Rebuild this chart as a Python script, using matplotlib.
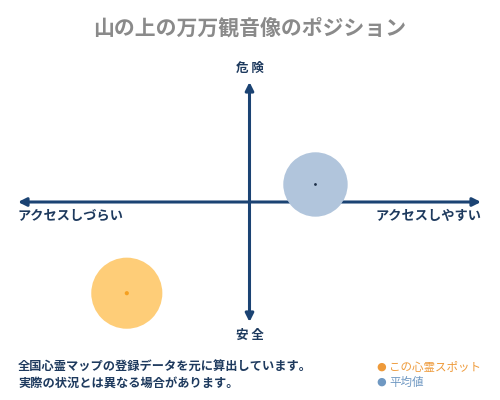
import matplotlib
matplotlib.use("Agg")
import matplotlib.pyplot as plt

plt.rcParams['font.family'] = ['Noto Sans CJK JP', 'DejaVu Sans']

title = "山の上の万万観音像のポジション"
series_names = ["この心霊スポット", "平均値"]
x_vals = [-0.53, 0.285]   # access (left: hard, right: easy)
y_vals = [-0.76, 0.146]   # danger (top: dangerous, bottom: safe)
fill_colors = ["#FECD78", "#B1C5DC"]
dot_colors = ["#F5A020", "#1C2F48"]
legend_colors = ["#EE9A3A", "#6F98C2"]
sizes = [2620, 2150]
dot_sizes = [9, 4]
label_top, label_bottom = "危 険", "安 全"
label_left, label_right = "アクセスしづらい", "アクセスしやすい"
notes = ["全国心霊マップの登録データを元に算出しています。", "実際の状況とは異なる場合があります。"]

navy = "#1B4373"
text_navy = "#1E3A5E"

fig = plt.figure(figsize=(5, 4), dpi=100)
ax = fig.add_axes([18/500, (400-322)/400, 463/500, 240/400])
ax.set_xlim(-1, 1)
ax.set_ylim(-1, 1)
ax.axis('off')

arrow_kw = dict(arrowstyle='<|-|>,head_length=0.6,head_width=0.3', color=navy, lw=2.2,
                shrinkA=0, shrinkB=0, mutation_scale=8)
ax.annotate('', xy=(1, 0), xytext=(-1, 0), arrowprops=arrow_kw, zorder=1)
ax.annotate('', xy=(0, 1), xytext=(0, -1), arrowprops=arrow_kw, zorder=1)

for x, y, fc, dc, s, ds in zip(x_vals, y_vals, fill_colors, dot_colors, sizes, dot_sizes):
    ax.scatter([x], [y], s=s, color=fc, edgecolors='none', zorder=2, clip_on=False)
    ax.scatter([x], [y], s=ds, color=dc, edgecolors='none', zorder=3, clip_on=False)

fig.text(0.5, 1 - 28/400, title, ha='center', va='center', fontsize=15,
         color='#8A8A8A', fontweight='bold')
fig.text(0.5, 1 - 68/400, label_top, ha='center', va='center', fontsize=9,
         color=text_navy, fontweight='bold')
fig.text(0.5, 1 - 335/400, label_bottom, ha='center', va='center', fontsize=9,
         color=text_navy, fontweight='bold')
fig.text(18/500, 1 - 216/400, label_left, ha='left', va='center', fontsize=9.5,
         color=text_navy, fontweight='bold')
fig.text(482/500, 1 - 216/400, label_right, ha='right', va='center', fontsize=9.5,
         color=text_navy, fontweight='bold')

for i, line in enumerate(notes):
    fig.text(18/500, 1 - (367 + 16*i)/400, line, ha='left', va='center', fontsize=8.8,
             color=text_navy, fontweight='bold')

for i, (name, c) in enumerate(zip(series_names, legend_colors)):
    yy = 1 - (367 + 15*i)/400
    fig.text(381/500, yy, "●", ha='center', va='center', fontsize=8, color=c,
             family=['DejaVu Sans'])
    fig.text(389/500, yy, name, ha='left', va='center', fontsize=8.3, color=c)

fig.savefig("out.png", dpi=100)
